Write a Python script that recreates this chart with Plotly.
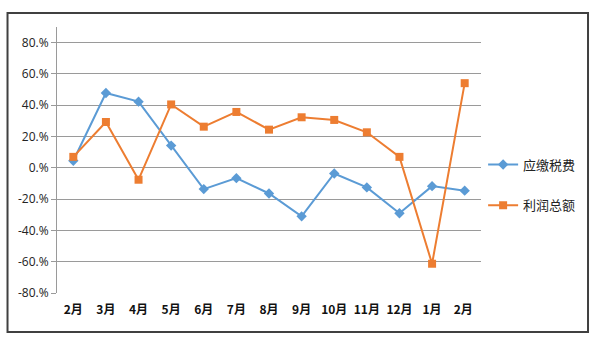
import plotly.graph_objects as go

months = ["2月", "3月", "4月", "5月", "6月", "7月", "8月", "9月", "10月", "11月", "12月", "1月", "2月 "]
tax_payable = [0.045, 0.478, 0.423, 0.142, -0.136, -0.066, -0.164, -0.310, -0.036, -0.125, -0.290, -0.117, -0.146]
total_profit = [0.070, 0.293, -0.076, 0.405, 0.263, 0.357, 0.244, 0.323, 0.306, 0.227, 0.070, -0.613, 0.541]
ytick_vals = [-0.8, -0.6, -0.4, -0.2, 0.0, 0.2, 0.4, 0.6, 0.8]
ytick_text = ["-80.%", "-60.%", "-40.%", "-20.%", "0.%", "20.%", "40.%", "60.%", "80.%"]

x = list(range(len(months)))

fig = go.Figure()
fig.add_trace(go.Scatter(
    x=x, y=tax_payable, name="应缴税费", mode="lines+markers",
    line=dict(color="#5B9BD5", width=2),
    marker=dict(symbol="diamond", size=8, color="#5B9BD5"),
    legendgroup="a",
))
fig.add_trace(go.Scatter(
    x=x, y=total_profit, name="利润总额", mode="lines+markers",
    line=dict(color="#ED7D31", width=2),
    marker=dict(symbol="square", size=8, color="#ED7D31"),
    legendgroup="b",
))

fig.update_layout(
    width=600, height=339,
    margin=dict(l=57, r=119, t=27, b=46),
    paper_bgcolor="white", plot_bgcolor="white",
    font=dict(family="Noto Sans CJK SC, Open Sans, sans-serif", color="#222222"),
    showlegend=True,
    legend=dict(x=1.005, y=0.406, xanchor="left", yanchor="middle",
                font=dict(size=13, color="#222222", family="Noto Sans CJK SC"),
                tracegroupgap=21, bgcolor="rgba(0,0,0,0)"),
    shapes=[dict(type="rect", xref="paper", yref="paper",
                 x0=-0.1167, x1=1.2524, y0=-0.1466, y1=1.0526,
                 line=dict(color="#404040", width=2), layer="below")],
)
fig.update_xaxes(
    range=[-0.5, len(months) - 0.5],
    tickmode="array", tickvals=x, ticktext=months,
    showgrid=False, zeroline=False, showline=False, ticks="",
    tickfont=dict(size=12, family="Noto Sans CJK SC", weight="bold", color="#111111"),
    ticklabelstandoff=8,
)
fig.update_yaxes(
    range=[-0.8, 0.9],
    tickmode="array", tickvals=ytick_vals, ticktext=ytick_text,
    showgrid=True, gridcolor="#9a9a9a", gridwidth=1,
    zeroline=False, showline=True, linecolor="#9a9a9a", linewidth=1,
    ticks="outside", ticklen=5, tickcolor="#9a9a9a",
    tickfont=dict(size=12, family="Open Sans", color="#222222"),
)

fig.write_html("out.html")
